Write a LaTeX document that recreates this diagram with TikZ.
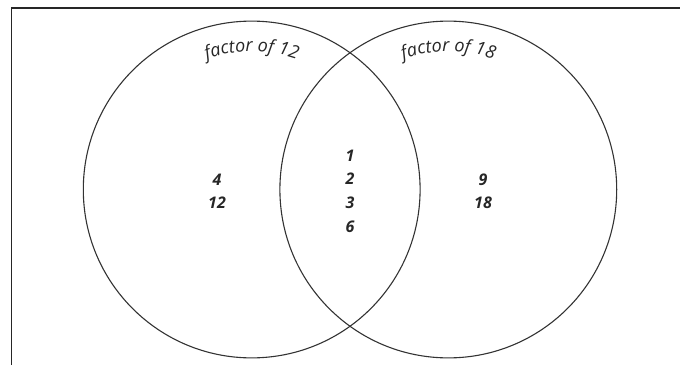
\documentclass[tikz,border=0pt]{standalone}
\usepackage{fontspec}
\setmainfont{Open Sans}
\usetikzlibrary{decorations.text}
\newfontfamily\labelfont{Open Sans}
\tikzset{
  setcircle/.style={circle, draw=black!80, line width=1.1pt, minimum size=336.8pt, inner sep=0pt},
  frameline/.style={draw=black!85, line width=1.3pt},
  num/.style={font=\fontsize{16}{16}\selectfont\bfseries\itshape, text=black!85, inner sep=0pt},
}
\begin{document}
\begin{tikzpicture}[x=1pt,y=1pt]
\useasboundingbox (0,0) rectangle (680,365);
% frame
\coordinate (fb) at (11.7,0);
\coordinate (fc) at (11.7,357);
\coordinate (fr) at (680,357);
\draw[frameline] (fb) -- (fc) -- (fr);
% circles
\node[setcircle] (A) at (251.7,175.5) {};
\node[setcircle] (B) at (448.3,175.5) {};
% curved labels
\path[decorate, decoration={text along path, text align=center,
  text={|\labelfont\fontsize{18}{18}\selectfont\itshape\color{black!85}|factor of 12}}]
  (251.7,175.5) ++(130:138) arc[start angle=130, end angle=50, radius=138];
\path[decorate, decoration={text along path, text align=center,
  text={|\labelfont\fontsize{18}{18}\selectfont\itshape\color{black!85}|factor of 18}}]
  (448.3,175.5) ++(130:138) arc[start angle=130, end angle=50, radius=138];
% numbers
\node[num] (n4) at (217,185) {4};
\node[num] (n12) at (217,162) {12};
\node[num] (n1) at (350,209) {1};
\node[num] (n2) at (350,186) {2};
\node[num] (n3) at (350,162) {3};
\node[num] (n6) at (350,138) {6};
\node[num] (n9) at (483,185) {9};
\node[num] (n18) at (483,162) {18};
\end{tikzpicture}
\end{document}
